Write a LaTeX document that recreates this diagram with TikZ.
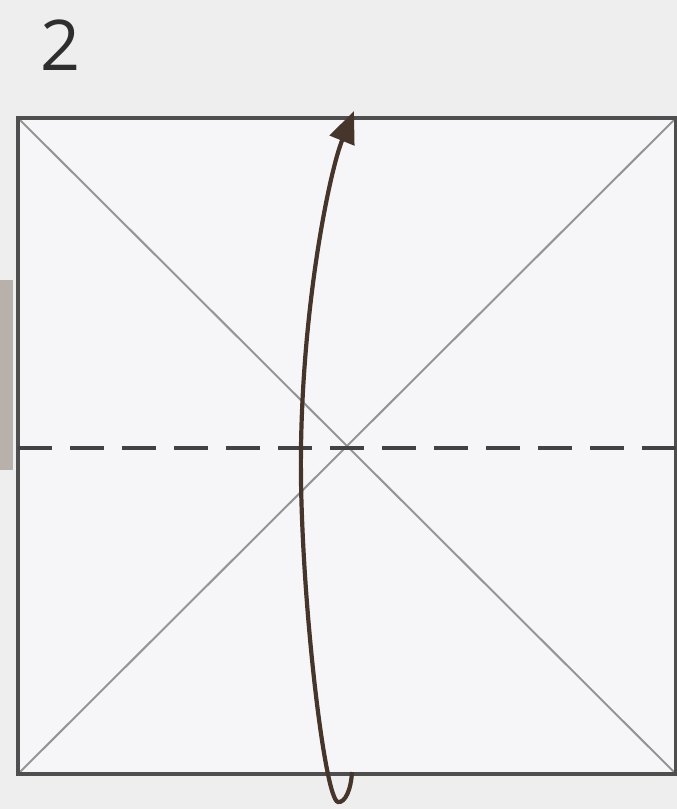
\documentclass[tikz,border=0pt]{standalone}
\usepackage{fontspec}
\setmainfont{Open Sans}
\usetikzlibrary{arrows.meta}
\definecolor{bgc}{HTML}{EEEEEE}
\definecolor{paperc}{HTML}{F6F6F8}
\definecolor{edgec}{HTML}{4E4E4E}
\definecolor{diagc}{HTML}{959595}
\definecolor{arrc}{HTML}{45352A}
\definecolor{numc}{HTML}{2E2E2E}
\definecolor{stripc}{HTML}{B8B0AA}
\tikzset{
  edgeline/.style={draw=edgec, line width=3.2pt},
  diagline/.style={draw=diagc, line width=2pt},
  foldline/.style={draw=edgec!85!black, line width=4.4pt, dash pattern=on 34pt off 18pt},
  foldarrow/.style={draw=arrc, line width=4.2pt, -{Triangle[length=32pt,width=26pt]}},
  numlabel/.style={text=numc, font=\fontsize{70}{76}\selectfont, inner sep=0pt}
}
\begin{document}
\begin{tikzpicture}[x=1pt,y=-1pt]
\useasboundingbox (0,0) rectangle (677,809);
\fill[bgc] (0,0) rectangle (677,809);
\fill[stripc] (0,280) rectangle (13,470);
\coordinate (tl) at (18,118);
\coordinate (tr) at (676,118);
\coordinate (br) at (676,774);
\coordinate (bl) at (18,774);
\coordinate (ml) at (18,448);
\coordinate (mr) at (677,448);
\fill[paperc] (tl) rectangle (br);
\draw[diagline] (tl) -- (br);
\draw[diagline] (tr) -- (bl);
\draw[edgeline] (tl) -- (tr) -- (br) -- (bl) -- cycle;
\draw[foldline] (ml) -- (mr);
\coordinate (as) at (352,772);
\coordinate (ab) at (338,802);
\coordinate (am) at (301,448);
\coordinate (at) at (354,111);
\draw[foldarrow] (as) .. controls (351,790) and (345,803) .. (ab)
  .. controls (324,800) and (299,580) .. (am)
  .. controls (303,300) and (330,170) .. (at);
\node[numlabel, anchor=center] (num) at (61,45) {2};
\end{tikzpicture}
\end{document}
